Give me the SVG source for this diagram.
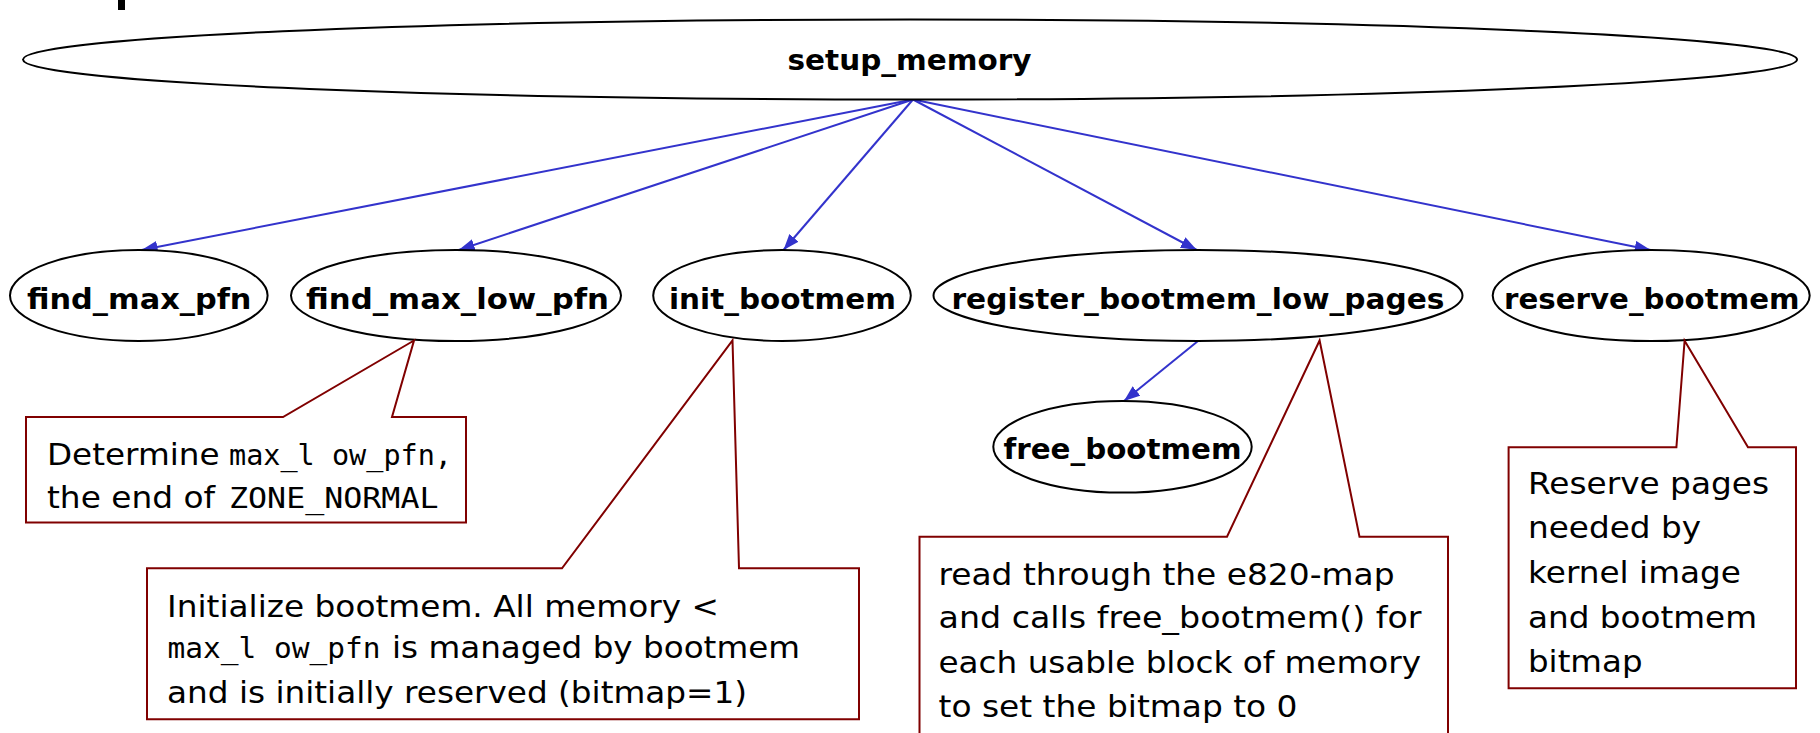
<svg xmlns="http://www.w3.org/2000/svg" width="1820" height="733" viewBox="0 0 1820 733">
<defs>
<style>
.node ellipse{fill:#ffffff;stroke:#000000;stroke-width:2}
.lbl{font-family:"DejaVu Sans","Liberation Sans",sans-serif;font-weight:bold;font-size:29px;fill:#000000}
.edge{stroke:#3333cc;stroke-width:2;fill:none;marker-end:url(#ah)}
.note polygon{fill:#ffffff;stroke:#800000;stroke-width:2;stroke-linejoin:miter}
.nt{font-family:"DejaVu Sans","Liberation Sans",sans-serif;font-size:31px;fill:#000000}
.mono{font-family:"DejaVu Sans Mono","Liberation Mono",monospace;font-size:28px;fill:#000000}
</style>
<marker id="ah" markerUnits="userSpaceOnUse" markerWidth="18" markerHeight="14" refX="16" refY="6" orient="auto">
<path d="M0,0 L16,6 L0,12 z" fill="#3333cc"/>
</marker>
</defs>
<rect x="0" y="0" width="1820" height="733" fill="#ffffff"/>
<rect x="118" y="0" width="7" height="10" fill="#000000"/>

<g id="connectors">
<line class="edge" x1="913" y1="99.5" x2="141.6" y2="250"/>
<line class="edge" x1="913" y1="99.5" x2="458.7" y2="250"/>
<line class="edge" x1="913" y1="99.5" x2="783.5" y2="250"/>
<line class="edge" x1="913" y1="99.5" x2="1196.8" y2="250"/>
<line class="edge" x1="913" y1="99.5" x2="1650.7" y2="250"/>
<line class="edge" x1="1198" y1="341" x2="1124" y2="401"/>
</g>

<g id="node-setup_memory" class="node">
<ellipse cx="910" cy="59.5" rx="887" ry="40"/>
<text class="lbl" x="787.5" y="70" textLength="244" lengthAdjust="spacingAndGlyphs">setup_memory</text>
</g>
<g id="node-find_max_pfn" class="node">
<ellipse cx="138.8" cy="295.5" rx="128.8" ry="45.5"/>
<text class="lbl" x="27" y="309" textLength="224.5" lengthAdjust="spacingAndGlyphs">find_max_pfn</text>
</g>
<g id="node-find_max_low_pfn" class="node">
<ellipse cx="456" cy="295.5" rx="165" ry="45.5"/>
<text class="lbl" x="306" y="309" textLength="303" lengthAdjust="spacingAndGlyphs">find_max_low_pfn</text>
</g>
<g id="node-init_bootmem" class="node">
<ellipse cx="782" cy="295.5" rx="128.8" ry="45.5"/>
<text class="lbl" x="669" y="309" textLength="227" lengthAdjust="spacingAndGlyphs">init_bootmem</text>
</g>
<g id="node-register_bootmem_low_pages" class="node">
<ellipse cx="1198" cy="295.5" rx="264.5" ry="45.5"/>
<text class="lbl" x="951.5" y="309" textLength="493" lengthAdjust="spacingAndGlyphs">register_bootmem_low_pages</text>
</g>
<g id="node-reserve_bootmem" class="node">
<ellipse cx="1651.2" cy="295.5" rx="158.5" ry="45.5"/>
<text class="lbl" x="1504" y="309" textLength="295.5" lengthAdjust="spacingAndGlyphs">reserve_bootmem</text>
</g>
<g id="node-free_bootmem" class="node">
<ellipse cx="1122.5" cy="446.8" rx="129.2" ry="45.8"/>
<text class="lbl" x="1003.5" y="459" textLength="238" lengthAdjust="spacingAndGlyphs">free_bootmem</text>
</g>

<g id="note-find_max_low_pfn" class="note">
<polygon points="26,417 283,417 414,340.5 392,417 466,417 466,522.5 26,522.5"/>
<text class="nt" x="47" y="465" textLength="172.5" lengthAdjust="spacingAndGlyphs">Determine</text>
<text class="mono" x="229" y="465" textLength="223" lengthAdjust="spacingAndGlyphs">max_l ow_pfn,</text>
<text class="nt" x="47" y="508" textLength="168" lengthAdjust="spacingAndGlyphs">the end of</text>
<text class="mono" x="229" y="508" textLength="209.5" lengthAdjust="spacingAndGlyphs">ZONE_NORMAL</text>
</g>

<g id="note-init_bootmem" class="note">
<polygon points="147,568.3 562,568.3 732.5,340.5 739,568.3 859,568.3 859,719.3 147,719.3"/>
<text class="nt" x="167" y="617" textLength="552" lengthAdjust="spacingAndGlyphs">Initialize bootmem. All memory &lt;</text>
<text class="mono" x="167.5" y="658" textLength="213" lengthAdjust="spacingAndGlyphs">max_l ow_pfn</text>
<text class="nt" x="392" y="658" textLength="408" lengthAdjust="spacingAndGlyphs">is managed by bootmem</text>
<text class="nt" x="167" y="703" textLength="580" lengthAdjust="spacingAndGlyphs">and is initially reserved (bitmap=1)</text>
</g>

<g id="note-register_bootmem_low_pages" class="note">
<polygon points="919.5,536.7 1227,536.7 1319.6,340.5 1359.5,536.7 1448,536.7 1448,745 919.5,745"/>
<text class="nt" x="938.5" y="585" textLength="456" lengthAdjust="spacingAndGlyphs">read through the e820-map</text>
<text class="nt" x="938.5" y="628" textLength="483" lengthAdjust="spacingAndGlyphs">and calls free_bootmem() for</text>
<text class="nt" x="938.5" y="673" textLength="482.5" lengthAdjust="spacingAndGlyphs">each usable block of memory</text>
<text class="nt" x="938.5" y="717" textLength="359" lengthAdjust="spacingAndGlyphs">to set the bitmap to 0</text>
</g>

<g id="note-reserve_bootmem" class="note">
<polygon points="1508.6,447.3 1676.4,447.3 1684.6,340.7 1748,447.3 1796,447.3 1796,688.3 1508.6,688.3"/>
<text class="nt" x="1528" y="494" textLength="241" lengthAdjust="spacingAndGlyphs">Reserve pages</text>
<text class="nt" x="1528" y="538" textLength="173" lengthAdjust="spacingAndGlyphs">needed by</text>
<text class="nt" x="1528" y="583" textLength="213" lengthAdjust="spacingAndGlyphs">kernel image</text>
<text class="nt" x="1528" y="628" textLength="229" lengthAdjust="spacingAndGlyphs">and bootmem</text>
<text class="nt" x="1528" y="672" textLength="114.5" lengthAdjust="spacingAndGlyphs">bitmap</text>
</g>
</svg>
